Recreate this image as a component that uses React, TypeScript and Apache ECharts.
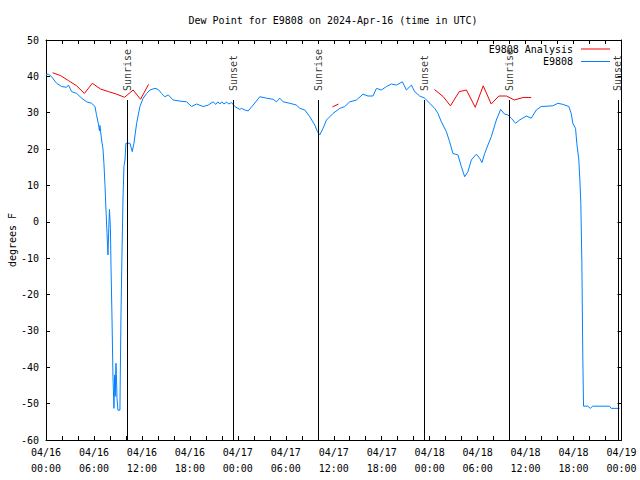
import React, { useEffect, useRef } from "react";
import * as echarts from "echarts";

const FONT = "'DejaVu Sans Mono', 'Liberation Mono', monospace";
const TITLE = "Dew Point for E9808 on 2024-Apr-16 (time in UTC)";

// hours since 04/16 00:00 UTC, dew point (F)
const obsE9808: [number, number][] = [
  [0, 40.5], [0.31, 40.6], [0.71, 39.9], [1.0, 39.0], [1.34, 38.1], [1.96, 37.2],
  [2.59, 37.0], [2.81, 37.6], [3.21, 35.8], [3.84, 35.3], [4.46, 34.0], [5.09, 33.0],
  [5.71, 32.6], [6.13, 31.7], [6.31, 29.5], [6.54, 27.1], [6.69, 25.0], [6.75, 26.5],
  [6.96, 22.5], [7.13, 20.0], [7.25, 16.0], [7.38, 10.0], [7.5, 3.5], [7.63, -3.0],
  [7.75, -9.1], [7.88, 0.0], [7.94, 3.4], [8.06, -1.8], [8.13, -11.9], [8.25, -25.6],
  [8.38, -42.6], [8.5, -51.3], [8.59, -42.1], [8.66, -48.0], [8.75, -38.9], [8.81, -42.0],
  [8.88, -48.5], [9.0, -51.8], [9.25, -51.8], [9.29, -43.0], [9.38, -25.6], [9.5, -9.6],
  [9.63, 6.0], [9.75, 15.2], [9.88, 17.0], [10.0, 21.6], [10.16, 21.6], [10.5, 21.6],
  [10.79, 19.3], [11.0, 21.6], [11.34, 27.1], [11.75, 31.7], [12.16, 34.0], [12.59, 35.3],
  [13.0, 36.25], [13.63, 36.7], [14.04, 36.4], [14.46, 35.3], [14.88, 34.4], [15.29, 34.9],
  [15.91, 33.5], [16.75, 33.2], [17.59, 33.0], [18.21, 31.7], [18.84, 32.4], [19.66, 31.7],
  [20.29, 32.1], [20.91, 33.0], [21.25, 32.3], [21.5, 33.0], [21.75, 32.4], [22.0, 33.0],
  [22.25, 32.4], [22.59, 32.9], [22.88, 32.4], [23.21, 32.8], [23.63, 31.7], [24.25, 30.9],
  [24.46, 31.2], [24.88, 30.75], [25.29, 30.5], [25.91, 32.1], [26.75, 34.4], [27.59, 34.0],
  [28.41, 33.7], [28.84, 33.0], [29.25, 34.0], [29.66, 33.0], [30.5, 32.6], [31.34, 32.1],
  [31.75, 31.2], [32.38, 30.75], [33.0, 28.9], [33.63, 26.6], [33.96, 24.8], [34.25, 23.9],
  [34.66, 25.7], [35.09, 28.0], [35.91, 29.8], [36.75, 31.2], [37.38, 31.7], [38.0, 33.0],
  [38.84, 33.5], [39.66, 35.1], [40.29, 34.6], [40.91, 34.6], [41.34, 36.7], [41.96, 36.25],
  [42.59, 37.2], [43.21, 37.9], [43.84, 37.6], [44.59, 38.5], [45.09, 36.25], [45.71, 37.6],
  [46.13, 35.8], [46.75, 34.6], [47.38, 34.0], [48.0, 32.6], [48.63, 31.2], [49.04, 29.8],
  [49.46, 27.5], [50.09, 24.8], [50.5, 22.0], [50.91, 18.8], [51.54, 18.4], [51.96, 15.2],
  [52.38, 12.4], [52.79, 13.8], [53.21, 17.0], [53.84, 18.6], [54.25, 17.5], [54.54, 16.3],
  [54.88, 18.8], [55.29, 21.1], [55.71, 23.4], [56.34, 28.0], [56.88, 30.9], [57.38, 29.6],
  [57.79, 29.4], [58.21, 28.5], [58.75, 27.1], [59.25, 28.0], [60.09, 29.1], [60.71, 28.5],
  [61.34, 30.75], [61.96, 31.7], [63.41, 31.9], [64.04, 32.6], [64.66, 32.3], [65.41, 31.7],
  [65.71, 29.8], [65.91, 27.1], [66.25, 25.7], [66.41, 21.6], [66.66, 17.0], [66.79, 11.5],
  [66.91, 5.1], [67.04, -11.0], [67.16, -37.5], [67.25, -50.7], [67.79, -50.7], [68.09, -51.3],
  [68.41, -50.7], [70.5, -50.7], [70.71, -51.3], [71.75, -51.3],
];

const analysisSeg1: [number, number][] = [
  [0.83, 41.0], [1.83, 40.2], [2.83, 38.8], [3.83, 37.4], [4.8, 35.3], [5.8, 38.1],
  [6.83, 36.5], [7.83, 35.8], [8.83, 35.1], [9.83, 34.25], [10.9, 36.25], [11.83, 33.7],
  [12.83, 37.8],
];
const analysisSeg2: [number, number][] = [[35.83, 31.6], [36.6, 32.4]];
const analysisSeg3: [number, number][] = [
  [48.6, 36.4], [49.7, 34.4], [50.6, 31.9], [51.7, 35.8], [52.6, 36.25], [53.7, 31.5],
  [54.7, 37.4], [55.7, 32.4], [56.66, 34.6], [57.6, 34.6], [58.6, 33.5], [59.7, 34.2],
  [60.7, 34.2],
];

const sunNames = ["Sunrise", "Sunset", "Sunrise", "Sunset", "Sunrise", "Sunset"];
const sunTimes = [10.16, 23.42, 34.04, 47.38, 58.0, 71.54];
const sunLineTop = 33.5;
const sunLabelAt = 35.7;

const Y_MIN = -60;
const Y_MAX = 50;
const X_MIN = 0;
const X_MAX = 72;

function pad(n: number) {
  return n < 10 ? "0" + n : "" + n;
}
function fmtTick(v: number) {
  if (v % 6 !== 0) return "";
  const day = 16 + Math.floor(v / 24);
  const hr = v % 24;
  return `04/${pad(day)}\n${pad(hr)}:00`;
}

export default function App() {
  const ref = useRef<HTMLDivElement>(null);
  useEffect(() => {
    if (!ref.current) return;
    const chart = echarts.init(ref.current, null, { renderer: "svg" });
    const analysisData: any[] = [
      ...analysisSeg1,
      [13.5, "-"],
      ...analysisSeg2,
      [40, "-"],
      ...analysisSeg3,
    ];
    const axisLine = { show: true, onZero: false, lineStyle: { color: "#000", width: 1 } };
    const tick = { show: true, inside: true, length: 4, lineStyle: { color: "#000", width: 1 } };
    const txt = { fontFamily: FONT, fontSize: 10, color: "#000" };
    const legendCommon = {
      right: 30,
      align: "right",
      orient: "vertical",
      padding: 0,
      itemWidth: 29,
      itemHeight: 1,
      icon: "rect",
      textStyle: { ...txt, padding: [0, 3, 0, 0] },
    };
    const option: any = {
      animation: false,
      backgroundColor: "#fff",
      textStyle: txt,
      grid: { left: 46, right: 18.5, top: 40, bottom: 40, containLabel: false, outerBoundsMode: "none" },
      graphic: [
        {
          type: "text",
          x: 333,
          y: 20,
          style: {
            text: TITLE,
            textAlign: "center",
            textVerticalAlign: "middle",
            font: `10px ${FONT}`,
            fill: "#000",
          },
        },
      ],
      xAxis: [
        {
          type: "value",
          min: X_MIN,
          max: X_MAX,
          interval: 2,
          position: "bottom",
          axisLine,
          axisTick: tick,
          splitLine: { show: false },
          axisLabel: { ...txt, formatter: fmtTick, margin: 4, lineHeight: 16 },
        },
        {
          type: "value",
          min: X_MIN,
          max: X_MAX,
          interval: 2,
          position: "top",
          axisLine,
          axisTick: tick,
          splitLine: { show: false },
          axisLabel: { show: false },
        },
      ],
      yAxis: [
        {
          type: "value",
          min: Y_MIN,
          max: Y_MAX,
          interval: 10,
          position: "left",
          name: "degrees F",
          nameLocation: "middle",
          nameGap: 29,
          nameMoveOverlap: false,
          nameTextStyle: txt,
          axisLine,
          axisTick: tick,
          splitLine: { show: false },
          axisLabel: { ...txt, margin: 7 },
        },
        {
          type: "value",
          min: Y_MIN,
          max: Y_MAX,
          interval: 10,
          position: "right",
          axisLine,
          axisTick: tick,
          splitLine: { show: false },
          axisLabel: { show: false },
        },
      ],
      legend: [
        { ...legendCommon, data: ["E9808 Analysis"], top: 44 },
        { ...legendCommon, data: ["E9808"], top: 56.5 },
      ],
      series: [
        {
          name: "E9808",
          type: "line",
          data: obsE9808,
          symbol: "none",
          showSymbol: false,
          lineStyle: { color: "#0080ff", width: 1 },
          itemStyle: { color: "#0080ff" },
          z: 3,
        },
        {
          name: "E9808 Analysis",
          type: "line",
          data: analysisData,
          symbol: "none",
          showSymbol: false,
          connectNulls: false,
          lineStyle: { color: "#ee0000", width: 1 },
          itemStyle: { color: "#ee0000" },
          z: 4,
        },
        {
          name: "sun",
          type: "scatter",
          symbolSize: 1,
          itemStyle: { color: "rgba(0,0,0,0)" },
          silent: true,
          z: 2,
          data: sunTimes.map((t, i) => ({ value: [t, sunLabelAt], name: sunNames[i] })),
          label: {
            show: true,
            formatter: "{b}",
            position: "inside",
            rotate: 90,
            align: "left",
            verticalAlign: "middle",
            offset: [1, 0],
            ...txt,
          },
          markLine: {
            silent: true,
            symbol: ["none", "none"],
            label: { show: false },
            lineStyle: { color: "#000", width: 1, type: "solid" },
            data: sunTimes.map((t) => [
              { coord: [t, Y_MIN] },
              { coord: [t, sunLineTop] },
            ]),
          },
        },
      ],
    };
    chart.setOption(option);
    return () => chart.dispose();
  }, []);
  return (
    <div
      ref={ref}
      style={{ width: 640, height: 480, position: "fixed", left: 0, top: 0 }}
    />
  );
}
